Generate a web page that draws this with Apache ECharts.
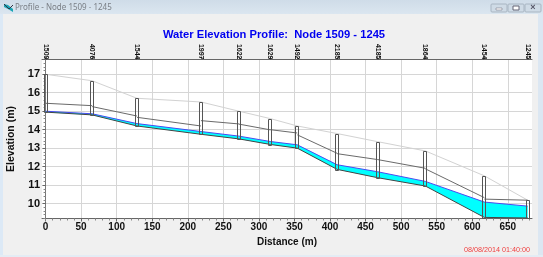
<!DOCTYPE html>
<html>
<head>
<meta charset="utf-8">
<style>html,body{margin:0;padding:0;background:#f0f0f0}#c{width:543px;height:257px}</style>
<script src="https://cdn.jsdelivr.net/npm/echarts@6/dist/echarts.min.js"></script>
</head>
<body>
<div id="c"></div>
<script>
const nodeNames = ['1509','4076','1544','1997','1622','1629','1492','2185','4185','1864','1454','1245'];
const distance  = [0,65.5,128.5,218.5,272,316,354,410,467,534,617,678];
const groundEl  = [17.0,16.65,15.7,15.5,15.0,14.6,14.2,13.79,13.35,12.85,11.5,10.18];
const invertEl  = [14.95,14.8,14.2,13.75,13.5,13.2,13.0,11.85,11.4,10.95,9.25,9.22];
const waterEl   = [15.0,14.86,14.33,13.9,13.65,13.36,13.18,12.1,11.72,11.2,10.08,9.86];
const crownStart= [15.43,15.25,14.67,14.49,14.3,14.0,13.72,12.7,12.38,11.88,10.24];
const crownEnd  = [15.3,14.74,14.2,14.31,13.99,13.82,12.72,12.38,11.91,10.32,10.18];
const xTicks = [0,50,100,150,200,250,300,350,400,450,500,550,600,650];
const yTicks = [10,11,12,13,14,15,16,17];
const xMinor = [0,10,20,30,40,60,70,80,90,110,120,130,140,160,170,180,190,210,220,230,240,260,270,280,290,310,320,330,340,360,370,380,390,410,420,430,440,460,470,480,490,510,520,530,540,560,570,580,590,610,620,630,640,660,670,680];
const yMinor = [9.2,9.4,9.6,9.8,10.2,10.4,10.6,10.8,11.2,11.4,11.6,11.8,12.2,12.4,12.6,12.8,13.2,13.4,13.6,13.8,14.2,14.4,14.6,14.8,15.2,15.4,15.6,15.8,16.2,16.4,16.6,16.8,17.2,17.4,17.6];
const titleText = 'Water Elevation Profile:  Node 1509 - 1245';
const windowText = 'Profile - Node 1509 - 1245';
const stampText = '08/08/2014 01:40:00';

const FONT = '"Liberation Sans", Arial, sans-serif';
const X_MIN = -5, X_MAX = 684, Y_MIN = 9.19, Y_MAX = 17.8;

const chart = echarts.init(document.getElementById('c'), null, {renderer:'canvas', width:543, height:257});

const waterData = distance.map((d,i)=>[d, waterEl[i], invertEl[i]]);
const nodeData  = distance.map((d,i)=>[d, groundEl[i], invertEl[i]]);
const crownData = crownStart.map((c,i)=>[distance[i], c, distance[i+1], crownEnd[i]]);

chart.setOption({
  animation:false,
  backgroundColor:'#f0f0f0',
  title:{text:titleText,left:269,top:24,textAlign:'center',
    textStyle:{color:'#0000f0',fontFamily:FONT,fontWeight:'bold',fontSize:11.2}},
  grid:{left:42,right:11,top:59.5,height:159,outerBoundsMode:'none',containLabel:false,show:true,backgroundColor:'#ffffff',borderWidth:0},
  xAxis:[
    {type:'value',min:X_MIN,max:X_MAX,position:'bottom',
      name:'Distance (m)',nameLocation:'middle',nameGap:13,
      nameTextStyle:{color:'#111',fontFamily:FONT,fontWeight:'bold',fontSize:10},
      axisLine:{show:true,lineStyle:{color:'#666',width:1}},
      axisTick:{show:true,length:3,customValues:xTicks,lineStyle:{color:'#666'}},
      axisLabel:{show:true,customValues:xTicks,margin:4,color:'#111',fontFamily:FONT,fontWeight:'bold',fontSize:10,formatter:v=>String(v),hideOverlap:false},
      splitLine:{show:true,lineStyle:{color:'#d6d6d6',width:1}}},
    {type:'value',min:X_MIN,max:X_MAX,position:'bottom',
      axisLine:{show:false},
      axisTick:{show:true,length:2,customValues:xMinor,lineStyle:{color:'#888'}},
      axisLabel:{show:false},splitLine:{show:false}},
    {type:'value',min:X_MIN,max:X_MAX,position:'top',
      axisLine:{show:true,lineStyle:{color:'#666',width:1}},
      axisTick:{show:true,length:3,customValues:distance,lineStyle:{color:'#666'}},
      axisLabel:{show:true,customValues:distance,rotate:90,margin:0,color:'#111',fontFamily:FONT,fontWeight:'bold',fontSize:7,hideOverlap:false,
        formatter:v=>nodeNames[distance.indexOf(v)]||''},
      splitLine:{show:false}}
  ],
  yAxis:[
    {type:'value',min:Y_MIN,max:Y_MAX,position:'left',
      name:'Elevation (m)',nameLocation:'middle',nameGap:-9,nameRotate:90,
      nameTextStyle:{color:'#111',fontFamily:FONT,fontWeight:'bold',fontSize:10.5},
      axisLine:{show:true,lineStyle:{color:'#666',width:1}},
      axisTick:{show:true,length:3,customValues:yTicks,lineStyle:{color:'#666'}},
      axisLabel:{show:true,customValues:yTicks,margin:2,color:'#111',fontFamily:FONT,fontWeight:'bold',fontSize:11,formatter:v=>String(v),hideOverlap:false},
      splitLine:{show:true,lineStyle:{color:'#d6d6d6',width:1}}},
    {type:'value',min:Y_MIN,max:Y_MAX,position:'left',
      axisLine:{show:false},
      axisTick:{show:true,length:2,customValues:yMinor,lineStyle:{color:'#888'}},
      axisLabel:{show:false},splitLine:{show:false}},
    {type:'value',min:Y_MIN,max:Y_MAX,position:'right',
      axisLine:{show:true,lineStyle:{color:'#777',width:1}},
      axisTick:{show:false},axisLabel:{show:false},splitLine:{show:false}}
  ],
  series:[
    {type:'custom',name:'Water fill',coordinateSystem:'cartesian2d',xAxisIndex:0,yAxisIndex:0,silent:true,z:3,
      data:waterData,encode:{x:0,y:[1,2]},
      renderItem:(p,api)=>{
        if(p.dataIndex!==0) return null;
        const top=waterEl.map((w,i)=>api.coord([distance[i],w]));
        const bot=invertEl.map((w,i)=>api.coord([distance[i],w])).reverse();
        return {type:'polygon',shape:{points:top.concat(bot)},style:{fill:'#00ffff',stroke:null}};
      }},
    {type:'line',name:'Ground',xAxisIndex:0,yAxisIndex:0,data:distance.map((d,i)=>[d,groundEl[i]]),
      showSymbol:false,silent:true,z:4,lineStyle:{color:'#d2d2d2',width:1}},
    {type:'line',name:'Water surface',xAxisIndex:0,yAxisIndex:0,data:distance.map((d,i)=>[d,waterEl[i]]),
      showSymbol:false,silent:true,z:5,lineStyle:{color:'#4a4af0',width:1}},
    {type:'line',name:'Invert',xAxisIndex:0,yAxisIndex:0,data:distance.map((d,i)=>[d,invertEl[i]]),
      showSymbol:false,silent:true,z:5,lineStyle:{color:'#444',width:1}},
    {type:'custom',name:'Crown',coordinateSystem:'cartesian2d',xAxisIndex:0,yAxisIndex:0,silent:true,z:5,
      data:crownData,encode:{x:[0,2],y:[1,3]},
      renderItem:(p,api)=>{
        const a=api.coord([api.value(0),api.value(1)]),b=api.coord([api.value(2),api.value(3)]);
        return {type:'line',shape:{x1:a[0],y1:a[1],x2:b[0],y2:b[1]},style:{stroke:'#6a6a6a',lineWidth:1}};
      }},
    {type:'custom',name:'Nodes',coordinateSystem:'cartesian2d',xAxisIndex:0,yAxisIndex:0,silent:true,z:6,
      data:nodeData,encode:{x:0,y:[1,2]},
      renderItem:(p,api)=>{
        const t=api.coord([api.value(0),api.value(1)]),b=api.coord([api.value(0),api.value(2)]);
        return {type:'rect',shape:{x:Math.round(t[0])-1.5,y:Math.round(t[1])+.5,width:3,height:Math.round(b[1]-t[1])},
          style:{fill:'rgba(255,255,255,0)',stroke:'#555',lineWidth:1}};
      }}
  ],
  graphic:[
    {type:'rect',z:-10,silent:true,shape:{x:0,y:0,width:543,height:14},
      style:{fill:{type:'linear',x:0,y:0,x2:0,y2:1,colorStops:[{offset:0,color:'#cfdce8'},{offset:1,color:'#dbe6f0'}]}}},
    {type:'rect',z:-10,silent:true,shape:{x:0,y:14,width:3,height:243},style:{fill:'#dce9f6'}},
    {type:'rect',z:-10,silent:true,shape:{x:538,y:14,width:5,height:243},style:{fill:'#dce7f2'}},
    {type:'rect',z:-10,silent:true,shape:{x:0,y:255,width:543,height:2},style:{fill:'#e4ecf4'}},
    {type:'polygon',silent:true,shape:{points:[[4,4],[8,5],[13,9],[13,12],[8,9],[4,7]]},style:{fill:'#1aa5b5'}},
    {type:'polyline',silent:true,shape:{points:[[4,4],[9,9],[13,5]]},style:{stroke:'#334',fill:null,lineWidth:1}},
    {type:'text',silent:true,style:{x:15,y:8,text:windowText,fill:'#7a7f86',font:'8px "Noto Sans", sans-serif',textVerticalAlign:'middle'}},
    {type:'rect',silent:true,shape:{x:491,y:4,width:16,height:8,r:1},style:{fill:'#cfdbe6',stroke:'#a8b5c2'}},
    {type:'rect',silent:true,shape:{x:508,y:4,width:16,height:8,r:1},style:{fill:'#cfdbe6',stroke:'#a8b5c2'}},
    {type:'rect',silent:true,shape:{x:525,y:4,width:16,height:8,r:1},style:{fill:'#cfdbe6',stroke:'#a8b5c2'}},
    {type:'rect',silent:true,shape:{x:496,y:8,width:6,height:2},style:{fill:'#fff',stroke:'#667',lineWidth:.5}},
    {type:'rect',silent:true,shape:{x:513,y:6,width:6,height:4},style:{fill:'#fff',stroke:'#667',lineWidth:1}},
    {type:'text',silent:true,style:{x:533,y:8,text:'×',fill:'#556',font:'bold 9px "Liberation Sans"',textAlign:'center',textVerticalAlign:'middle'}},
    {type:'text',silent:true,style:{x:530,y:250,text:stampText,fill:'#f04040',font:'7.2px "Liberation Sans", Arial, sans-serif',textAlign:'right',textVerticalAlign:'middle'}}
  ]
});
</script>
</body>
</html>
